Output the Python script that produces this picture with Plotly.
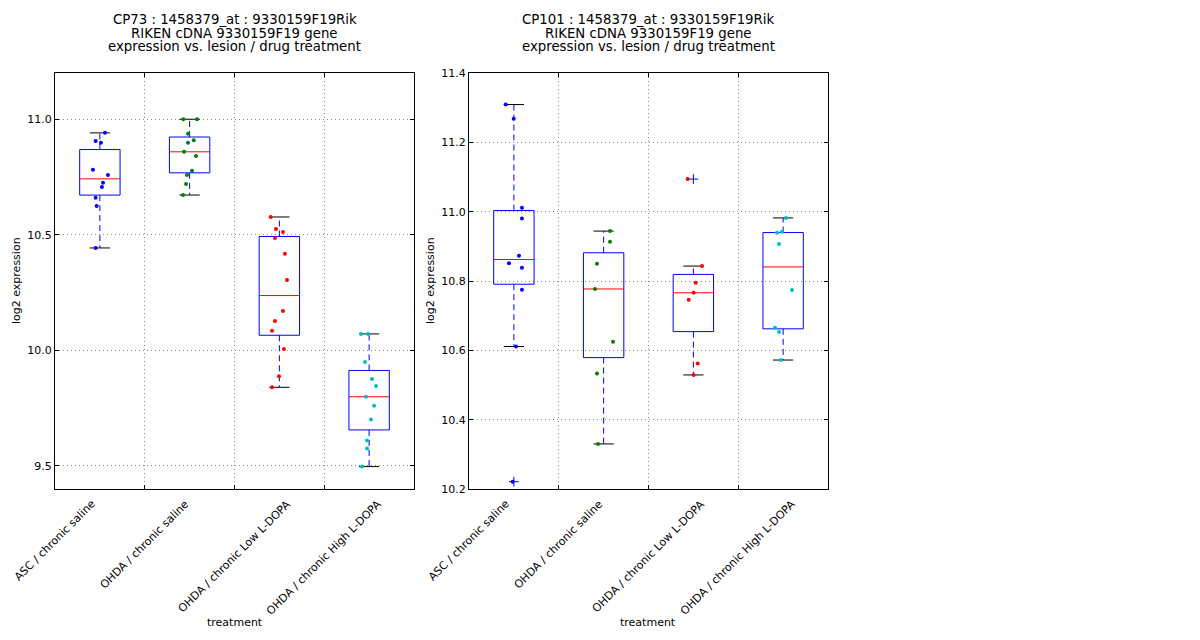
#!/usr/bin/env python3
"""
Boxplots of 1458379_at (9330159F19Rik) expression per treatment group,
for the CP73 and CP101 probes, with the individual samples jittered on top.
"""

import numpy as np
import plotly.graph_objects as go

treatments = [
    "ASC / chronic saline",
    "OHDA / chronic saline",
    "OHDA / chronic Low L-DOPA",
    "OHDA / chronic High L-DOPA",
]
point_colors = ["#0000ff", "#008000", "#ff0000", "#00bfbf"]

# CP73 log2 expression per group
cp73_asc_saline = [10.941, 10.906, 10.898, 10.781, 10.759, 10.725, 10.707, 10.660, 10.625, 10.443]
cp73_ohda_saline = [11.000, 11.000, 10.937, 10.909, 10.898, 10.859, 10.841, 10.777, 10.759, 10.720, 10.672]
cp73_ohda_low = [10.577, 10.525, 10.512, 10.486, 10.418, 10.304, 10.170, 10.127, 10.085, 10.006, 9.888, 9.840]
cp73_ohda_high = [10.071, 10.071, 9.950, 9.876, 9.846, 9.799, 9.760, 9.701, 9.610, 9.575, 9.497]
cp73_yticks = [9.5, 10.0, 10.5, 11.0]

# CP101 log2 expression per group
cp101_asc_saline = [11.309, 11.268, 11.011, 10.980, 10.873, 10.851, 10.838, 10.775, 10.611, 10.221]
cp101_ohda_saline = [10.944, 10.913, 10.850, 10.777, 10.625, 10.533, 10.330]
cp101_ohda_low = [11.094, 10.843, 10.795, 10.766, 10.746, 10.562, 10.529]
cp101_ohda_high = [10.982, 10.939, 10.942, 10.907, 10.774, 10.665, 10.653, 10.572]
cp101_yticks = [10.2, 10.4, 10.6, 10.8, 11.0, 11.2, 11.4]

# horizontal jitter of each sample (in category units), same order as above
cp73_jitter = [
    [0.057, -0.047, 0.012, -0.077, 0.090, 0.035, 0.023, -0.047, -0.036, -0.047],
    [-0.070, 0.082, -0.018, 0.046, -0.018, -0.062, 0.071, 0.027, -0.029, -0.040, -0.074],
    [-0.097, -0.038, 0.040, -0.049, 0.062, 0.085, 0.040, -0.049, -0.082, 0.051, -0.004, -0.082],
    [-0.090, -0.012, -0.046, 0.032, 0.077, -0.035, 0.055, 0.021, -0.023, -0.023, -0.079],
]
cp101_jitter = [
    [-0.091, -0.002, 0.090, 0.090, 0.057, -0.055, 0.090, 0.090, 0.023, -0.013],
    [0.071, 0.071, -0.074, -0.096, 0.105, -0.074, -0.062],
    [-0.064, 0.096, 0.026, 0.003, -0.052, 0.048, 0.003],
    [0.032, -0.068, -0.012, -0.046, 0.099, -0.090, -0.046, -0.024],
]

panels = [
    {
        "title": "CP73 : 1458379_at : 9330159F19Rik",
        "groups": [cp73_asc_saline, cp73_ohda_saline, cp73_ohda_low, cp73_ohda_high],
        "jitter": cp73_jitter,
        "yrange": [9.4, 11.2],
        "yticks": cp73_yticks,
    },
    {
        "title": "CP101 : 1458379_at : 9330159F19Rik",
        "groups": [cp101_asc_saline, cp101_ohda_saline, cp101_ohda_low, cp101_ohda_high],
        "jitter": cp101_jitter,
        "yrange": [10.2, 11.4],
        "yticks": cp101_yticks,
    },
]

FONT = "DejaVu Sans"
BOX_HALF = 0.225
W, H = 1200, 640
PAGE_PAD = 8  # the page body margin offsets the figure by this many px
x_domains = [[(55 - PAGE_PAD) / W, (414 - PAGE_PAD) / W],
             [(469 - PAGE_PAD) / W, (828 - PAGE_PAD) / W]]
y_domain = [1 - (489 - PAGE_PAD) / H, 1 - (73 - PAGE_PAD) / H]


def py(px_from_top):
    """paper y for a pixel row of the screen"""
    return 1 - (px_from_top - PAGE_PAD) / H


def box_stats(values):
    v = np.sort(np.asarray(values, dtype=float))
    q1, med, q3 = np.percentile(v, [25, 50, 75])
    iqr = q3 - q1
    lo = v[v >= q1 - 1.5 * iqr].min()
    hi = v[v <= q3 + 1.5 * iqr].max()
    fliers = v[(v < lo) | (v > hi)]
    return q1, med, q3, lo, hi, fliers


def add_group(fig, pos, values, jitter, color, xref, yref):
    q1, med, q3, lo, hi, fliers = box_stats(values)
    common = dict(xaxis=xref, yaxis=yref, mode="lines", hoverinfo="skip", showlegend=False)

    # whiskers (dashed blue) and caps (black)
    fig.add_trace(go.Scatter(
        x=[pos, pos, None, pos, pos], y=[q3, hi, None, q1, lo],
        line=dict(color="#0000ff", width=1, dash="6px,4px"), **common))
    fig.add_trace(go.Scatter(
        x=[pos - BOX_HALF / 2, pos + BOX_HALF / 2, None, pos - BOX_HALF / 2, pos + BOX_HALF / 2],
        y=[hi, hi, None, lo, lo],
        line=dict(color="black", width=1), **common))
    # box and median
    fig.add_trace(go.Scatter(
        x=[pos - BOX_HALF, pos + BOX_HALF, pos + BOX_HALF, pos - BOX_HALF, pos - BOX_HALF],
        y=[q1, q1, q3, q3, q1],
        line=dict(color="#0000ff", width=1), **common))
    fig.add_trace(go.Scatter(
        x=[pos - BOX_HALF, pos + BOX_HALF], y=[med, med],
        line=dict(color="#ff0000", width=1), **common))
    # outliers
    if len(fliers):
        fig.add_trace(go.Scatter(
            x=[pos] * len(fliers), y=fliers, xaxis=xref, yaxis=yref, mode="markers",
            marker=dict(symbol="cross-thin", size=7, line=dict(color="#0000ff", width=1)),
            hoverinfo="skip", showlegend=False))
    # samples
    fig.add_trace(go.Scatter(
        x=[pos + j for j in jitter], y=values, xaxis=xref, yaxis=yref, mode="markers",
        marker=dict(size=4, color=color),
        hovertemplate="%{y:.3f}<extra></extra>", showlegend=False))


fig = go.Figure()
annotations = []
layout_axes = {}

for i, panel in enumerate(panels):
    suffix = "" if i == 0 else str(i + 1)
    xref, yref = "x" + suffix, "y" + suffix
    positions = list(range(1, len(treatments) + 1))
    # ticks (and the vertical grid) sit between the boxes, as in the original
    xtick_pos = [p - 0.5 for p in positions] + [positions[-1] + 0.5]

    for pos, values, jitter, color in zip(positions, panel["groups"], panel["jitter"], point_colors):
        add_group(fig, pos, values, jitter, color, xref, yref)

    axis_style = dict(
        showline=True, linecolor="black", linewidth=1, mirror="ticks",
        ticks="inside", ticklen=4, tickcolor="black", automargin=False,
        showgrid=True, gridcolor="#8a8a8a", gridwidth=1, griddash="1px,3px",
        zeroline=False, tickfont=dict(family=FONT, size=11, color="black"),
    )
    layout_axes["xaxis" + suffix] = dict(
        domain=x_domains[i], range=[0.5, len(treatments) + 0.5],
        tickvals=xtick_pos, showticklabels=False,
        anchor=yref, **axis_style)
    layout_axes["yaxis" + suffix] = dict(
        domain=y_domain, range=panel["yrange"], tickvals=panel["yticks"],
        tickformat=".1f", anchor=xref, **axis_style)

    # rotated tick labels, centred on the tick like matplotlib's rotation=45
    for tick, label in zip(xtick_pos, treatments):
        annotations.append(dict(
            text=label, xref=xref, yref="paper", x=tick, y=py(495),
            xanchor="center", yanchor="top", textangle=-45, showarrow=False,
            font=dict(family=FONT, size=11, color="black")))

    cx = (x_domains[i][0] + x_domains[i][1]) / 2
    title_lines = [panel["title"], "RIKEN cDNA 9330159F19 gene", "expression vs. lesion / drug treatment"]
    for line, ypx in zip(title_lines, [19, 33, 47]):
        annotations.append(dict(
            text=line, xref="paper", yref="paper", x=cx, y=py(ypx),
            xanchor="center", yanchor="middle", showarrow=False,
            font=dict(family=FONT, size=13.3, color="black")))
    annotations.append(dict(
        text="treatment", xref="paper", yref="paper", x=cx, y=py(622),
        xanchor="center", yanchor="middle", showarrow=False,
        font=dict(family=FONT, size=11, color="black")))
    annotations.append(dict(
        text="log2 expression", xref="paper", yref="paper",
        x=x_domains[i][0] - 39 / W, y=(y_domain[0] + y_domain[1]) / 2,
        xanchor="center", yanchor="middle", textangle=-90, showarrow=False,
        font=dict(family=FONT, size=11, color="black")))

fig.update_layout(
    width=W, height=H,
    margin=dict(l=0, r=0, t=0, b=0),
    paper_bgcolor="white", plot_bgcolor="white",
    font=dict(family=FONT, size=11, color="black"),
    showlegend=False,
    annotations=annotations,
    **layout_axes,
)

fig.write_html("out.html")
print("Saved out.html")
